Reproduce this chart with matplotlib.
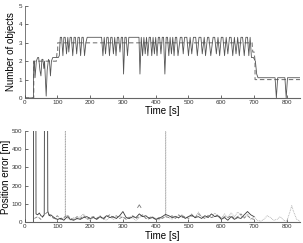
import matplotlib
matplotlib.use("Agg")
import matplotlib.pyplot as plt

plt.rcParams['font.family'] = ['Liberation Sans', 'DejaVu Sans']

# ---- top panel: number of objects (time [s], count) ----
true_pts = [(0, 0), (28, 0), (28, 2), (97, 2), (99, 2.5), (101, 2.5), (101, 3), (690, 3),
            (694, 3), (696, 2.5), (700, 2.5), (703, 2), (703, 1), (840, 1)]

est_pts = [(0, 0), (27, 0), (28, 2.0), (30, 2.0), (32, 1.1), (36, 2.0), (40, 2.2), (43, 2.2),
           (47, 1.5), (50, 1.2), (53, 2.1), (56, 2.1), (59, 1.6), (61, 2.0), (63, 1.2),
           (66, 0.1), (69, 1.5), (73, 2.1), (76, 2.0), (79, 1.2), (82, 2.0), (86, 2.2),
           (90, 2.2), (103, 2.2), (106, 2.3), (109, 3.3), (113, 3.3), (117, 2.3), (120, 3.3),
           (124, 3.3), (128, 2.4), (132, 3.3), (135, 2.5), (139, 3.3), (143, 3.3), (147, 2.3),
           (151, 3.3), (155, 3.3), (159, 2.4), (163, 3.3), (167, 3.3), (171, 2.3), (175, 3.3),
           (179, 3.3), (183, 2.3), (187, 3.0), (191, 3.3), (235, 3.3), (239, 2.3), (243, 3.3),
           (247, 2.4), (251, 3.3), (255, 3.3), (259, 2.3), (263, 3.3), (267, 3.3), (271, 2.4),
           (275, 3.3), (279, 2.3), (283, 3.3), (287, 3.3), (291, 2.5), (295, 3.3), (299, 3.3),
           (302, 1.3), (306, 3.3), (310, 3.3), (314, 2.3), (318, 3.3), (345, 3.3), (349, 3.3),
           (352, 1.3), (356, 3.3), (360, 2.3), (364, 3.3), (368, 2.4), (372, 3.3), (376, 2.3),
           (380, 3.3), (384, 3.3), (388, 2.3), (392, 3.3), (396, 2.4), (400, 3.3), (404, 2.3),
           (408, 3.3), (412, 3.3), (416, 2.4), (420, 3.3), (424, 3.3), (428, 1.3), (432, 3.3),
           (436, 3.3), (440, 2.3), (444, 3.3), (448, 2.4), (452, 3.3), (456, 2.3), (460, 3.3),
           (464, 3.3), (468, 2.3), (475, 3.3), (480, 3.3), (484, 2.4), (488, 3.3), (495, 3.3),
           (500, 2.3), (505, 3.3), (510, 2.4), (515, 3.3), (522, 3.3), (527, 2.3), (532, 3.3),
           (538, 3.3), (542, 2.4), (548, 3.3), (552, 2.3), (558, 3.3), (562, 3.3), (568, 2.3),
           (575, 3.3), (580, 3.3), (585, 2.4), (590, 3.3), (595, 2.3), (600, 3.3), (605, 3.3),
           (610, 2.3), (615, 3.3), (620, 2.4), (625, 3.3), (630, 3.3), (635, 2.3), (640, 3.3),
           (645, 2.4), (650, 3.3), (655, 2.3), (660, 3.3), (665, 3.3), (670, 2.3), (675, 3.3),
           (680, 3.3), (684, 2.3), (688, 3.3), (692, 2.2), (698, 2.2), (704, 2.0), (708, 1.3),
           (712, 1.1), (760, 1.1), (764, 1.1), (768, 0.0), (772, 1.1), (790, 1.1), (794, 1.1),
           (798, 0.0), (802, 1.1), (840, 1.1)]

# ---- bottom panel: position error (time [s], metres) ----
err_a_pts = [(27, 0), (27.5, 900), (34.5, 900), (35, 45), (40, 40), (45, 50), (50, 35), (55, 30),
             (60, 40), (61, 900), (70, 900), (71, 60), (75, 35), (80, 40), (90, 25), (100, 15),
             (110, 20), (120, 10), (130, 30), (140, 15), (150, 10), (160, 20), (170, 15),
             (180, 25), (190, 30), (200, 20), (210, 25), (220, 15), (230, 30), (240, 20),
             (250, 35), (260, 25), (270, 30), (280, 20), (290, 35), (300, 58), (310, 25),
             (320, 20), (330, 30), (340, 25), (350, 45), (360, 30), (370, 35), (380, 20),
             (390, 25), (400, 15), (410, 20), (420, 30), (430, 42), (440, 35), (450, 25),
             (460, 30), (470, 25), (480, 35), (490, 20), (500, 30), (510, 40), (520, 25),
             (530, 30), (540, 20), (550, 35), (560, 25), (570, 45), (580, 30), (590, 35),
             (600, 15), (610, 25), (620, 10), (630, 30), (640, 15), (650, 25), (660, 20),
             (670, 40), (680, 58), (690, 40), (700, 30)]

err_b_pts = [(30, 20), (40, 30), (50, 15), (60, 40), (70, 55), (80, 30), (90, 20), (100, 35),
             (110, 15), (120, 25), (130, 40), (140, 20), (150, 15), (160, 30), (170, 20),
             (180, 35), (190, 15), (200, 25), (210, 30), (220, 20), (230, 35), (240, 15),
             (250, 30), (260, 40), (270, 25), (280, 35), (290, 20), (300, 30), (310, 15),
             (320, 25), (330, 35), (340, 20), (350, 30), (360, 40), (370, 20), (380, 25),
             (390, 30), (400, 15), (410, 25), (420, 20), (430, 30), (440, 25), (450, 35),
             (460, 20), (470, 40), (480, 25), (490, 30), (500, 20), (510, 35), (520, 25),
             (530, 45), (540, 30), (550, 20), (560, 35), (570, 25), (580, 30), (590, 40),
             (600, 20), (610, 30), (620, 25), (630, 35), (640, 20), (650, 30), (660, 45),
             (670, 25), (680, 35), (690, 20), (700, 15)]

err_c_pts = [(90, 20), (100, 10), (110, 25), (120, 15), (124, 30), (124.2, 900), (124.8, 900),
             (125, 30), (130, 20), (140, 10), (150, 25), (160, 15), (170, 30), (180, 45),
             (190, 20), (200, 10), (210, 30), (220, 15), (230, 25), (240, 20), (250, 10),
             (260, 30), (270, 15), (280, 20), (290, 35), (300, 25), (310, 15), (320, 30),
             (330, 20), (340, 10), (350, 25), (360, 35), (370, 20), (380, 15), (390, 30),
             (400, 20), (410, 10), (420, 25), (430, 30), (430.2, 900), (430.8, 900), (431, 30),
             (440, 25), (450, 15), (460, 35), (470, 20), (480, 40), (490, 25), (500, 30),
             (510, 45), (520, 20), (530, 55), (540, 30), (550, 20), (560, 40), (570, 25),
             (580, 50), (590, 30), (600, 20), (610, 45), (620, 25), (630, 50), (640, 30),
             (650, 55), (660, 35), (670, 20), (680, 45), (690, 15), (700, 30), (710, 10),
             (720, 5), (730, 15), (740, 35), (750, 25), (760, 10), (770, 15), (780, 30),
             (790, 10), (800, 5), (810, 60), (815, 90), (820, 60), (830, 15), (840, 5)]

blip_pts = [(345, 80), (350, 95), (355, 80)]

ticks_top_y = [0, 1, 2, 3, 4, 5]
ticks_bot_y = [0, 100, 200, 300, 400, 500]
ticks_x = [0, 100, 200, 300, 400, 500, 600, 700, 800]


def xy(pts):
    return [p[0] for p in pts], [p[1] for p in pts]


fig = plt.figure(figsize=(3.03, 2.43), dpi=100)
ax1 = fig.add_axes([0.081, 0.597, 0.909, 0.378])
ax2 = fig.add_axes([0.081, 0.086, 0.909, 0.375])

dark = '#3a3a3a'
mid = '#7a7a7a'
light = '#a8a8a8'

ax1.plot(*xy(true_pts), color=mid, lw=0.8, dashes=(4, 2.5))
ax1.plot(*xy(est_pts), color='#555555', lw=0.6)
ax1.set_xlim(0, 840)
ax1.set_ylim(0, 5)
ax1.set_yticks(ticks_top_y)
ax1.set_xticks(ticks_x)
ax1.set_ylabel('Number of objects', fontsize=7, labelpad=2)
ax1.set_xlabel('Time [s]', fontsize=7, labelpad=1)

ax2.plot(*xy(err_c_pts), color=light, lw=0.6, ls=(0, (1, 1)))
ax2.plot(*xy(err_b_pts), color=mid, lw=0.6, dashes=(4, 2))
ax2.plot(*xy(err_a_pts), color=dark, lw=0.6)
ax2.plot(*xy(blip_pts), color=mid, lw=0.6)
ax2.set_xlim(0, 840)
ax2.set_ylim(0, 500)
ax2.set_yticks(ticks_bot_y)
ax2.set_xticks(ticks_x)
ax2.set_ylabel('Position error [m]', fontsize=7, labelpad=1)
ax2.set_xlabel('Time [s]', fontsize=7, labelpad=1)

for ax in (ax1, ax2):
    ax.spines['top'].set_visible(False)
    ax.spines['right'].set_visible(False)
    ax.spines['left'].set_linewidth(0.5)
    ax.spines['bottom'].set_linewidth(0.8)
    ax.spines['left'].set_color('#444444')
    ax.spines['bottom'].set_color('#666666')
    ax.tick_params(direction='in', length=2, width=0.5, labelsize=4.5, pad=1.5,
                   colors='#333333')

fig.savefig('out.png', dpi=100)
